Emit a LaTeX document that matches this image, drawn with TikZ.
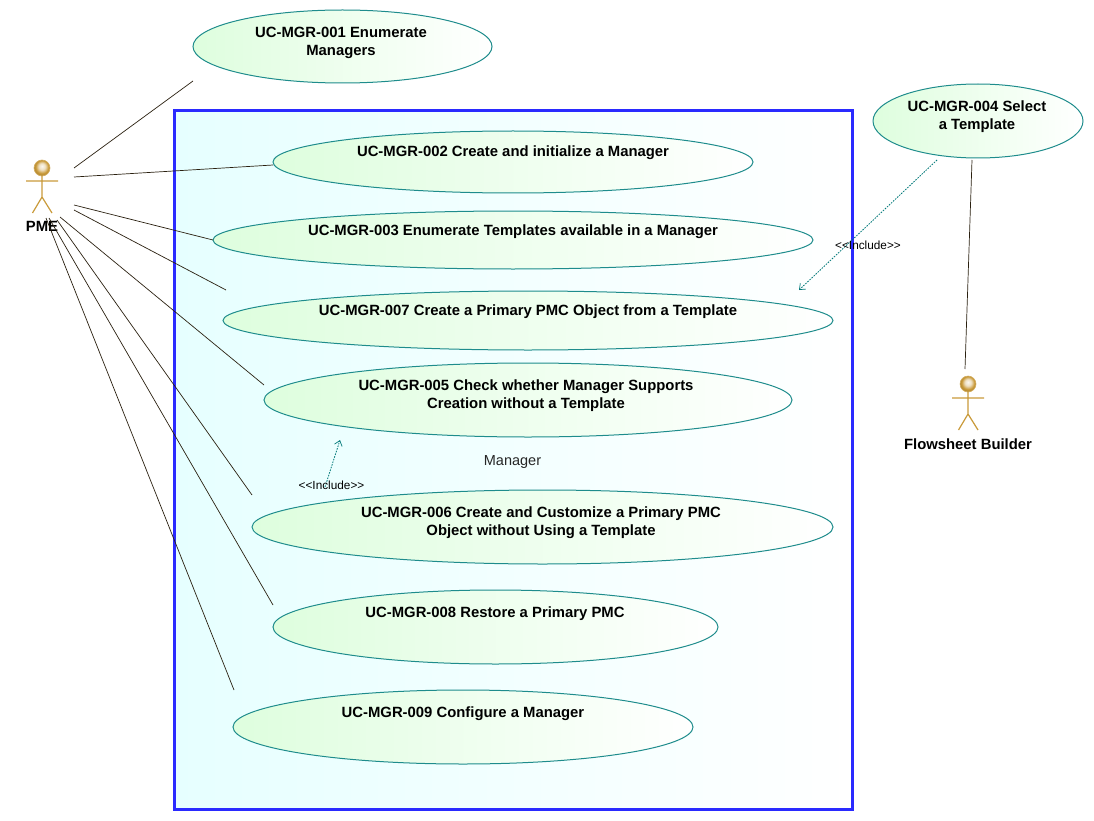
\documentclass[tikz,border=0pt]{standalone}
\usepackage{fontspec}
\setmainfont{Liberation Sans}
\usetikzlibrary{shapes.geometric,arrows.meta,shadings}
\definecolor{tealedge}{HTML}{1E8C8C}
\definecolor{tealdash}{HTML}{007878}
\definecolor{usegreen}{HTML}{DEFEDE}
\definecolor{framecyan}{HTML}{E6FFFF}
\definecolor{frameblue}{HTML}{2A2AFF}
\definecolor{actorgold}{HTML}{C99A3A}
\definecolor{linkdark}{HTML}{2A2010}
\pgfdeclareradialshading{goldball}{\pgfpoint{0bp}{6bp}}{%
  color(0bp)=(white!92!actorgold);
  color(10bp)=(white!70!actorgold);
  color(20bp)=(actorgold);
  color(25bp)=(actorgold!90!black);
  color(50bp)=(actorgold!90!black)}
\tikzset{
  usecase/.style={ellipse,draw=tealedge,line width=1pt,left color=usegreen,right color=white,inner sep=0pt},
  uctext/.style={font=\fontsize{14.85}{18}\selectfont\bfseries,align=center,inner sep=0pt,text=black},
  actorname/.style={font=\fontsize{14.85}{18}\selectfont\bfseries,inner sep=0pt,text=black},
  plain/.style={font=\fontsize{14.5}{18}\selectfont,inner sep=0pt,text=black!85},
  inclabel/.style={font=\fontsize{11.8}{14}\selectfont,inner sep=0pt,text=black},
  assoc/.style={draw=linkdark,line width=0.7pt},
  incl/.style={draw=tealdash,line width=0.8pt,dash pattern=on 1.6pt off 1.2pt,-{Straight Barb[length=5pt,width=8pt,line width=0.7pt]}},
  actorline/.style={draw=actorgold,line width=1.2pt},
  actorhead/.style={circle,inner sep=0pt,minimum size=16pt,draw=actorgold!80,line width=0.6pt,shading=goldball}
}
\newcommand{\ucase}[5]{% name, x1, x2, y1, y2
  \node[usecase,minimum width={(#3)-(#2)},minimum height={(#5)-(#4)}] (#1) at ({((#2)+(#3))/2},{((#4)+(#5))/2}) {};
}
\begin{document}
\begin{tikzpicture}[x=1pt,y=-1pt]
\useasboundingbox (0,0) rectangle (1094,821);
% frame
\node[draw=frameblue,line width=3pt,left color=framecyan,right color=white,minimum width=678pt,minimum height=698pt,inner sep=0pt] (frame) at (513,460) {};
% use cases
\ucase{ua}{193}{492}{10}{83}
\ucase{ub}{273}{753}{131}{193}
\ucase{uc}{213}{813}{211}{269}
\ucase{ug}{223}{833}{291}{350}
\ucase{ue}{264}{792}{363}{437}
\ucase{uf}{252}{833}{490}{564}
\ucase{uh}{273}{718}{590}{664}
\ucase{ui}{233}{693}{690}{764}
\ucase{ud}{873}{1083}{84}{158}
\node[uctext] (ta) at (341,42.5) {UC-MGR-001 Enumerate\\Managers};
\node[uctext] (tb) at (513,152.5) {UC-MGR-002 Create and initialize a Manager};
\node[uctext] (tc) at (513,231.5) {UC-MGR-003 Enumerate Templates available in a Manager};
\node[uctext] (tg) at (528,311.5) {UC-MGR-007 Create a Primary PMC Object from a Template};
\node[uctext] (te) at (526,395.5) {UC-MGR-005 Check whether Manager Supports\\Creation without a Template};
\node[uctext] (tf) at (541,522.5) {UC-MGR-006 Create and Customize a Primary PMC\\Object without Using a Template};
\node[uctext] (th) at (495,613.5) {UC-MGR-008 Restore a Primary PMC};
\node[uctext] (ti) at (463,713.5) {UC-MGR-009 Configure a Manager};
\node[uctext] (td) at (977,116.5) {UC-MGR-004 Select\\a Template};
\node[plain] (mgr) at (512.5,462) {Manager};
% actors
\node[actorhead] (pmehead) at (42,168) {};
\coordinate (pmeneck) at (42,176);
\coordinate (pmehip) at (42,197);
\coordinate (pmearml) at (26,181);
\coordinate (pmearmr) at (58,181);
\coordinate (pmelegl) at (32.5,213);
\coordinate (pmelegr) at (52,213);
\draw[actorline] (pmeneck) -- (pmehip) (pmearml) -- (pmearmr) (pmelegl) -- (pmehip) -- (pmelegr);
\node[actorname] (pme) at (42,226.5) {PME};
\node[actorhead] (fbhead) at (968,384) {};
\coordinate (fbneck) at (968,392);
\coordinate (fbhip) at (968,414);
\coordinate (fbarml) at (952,398);
\coordinate (fbarmr) at (984,398);
\coordinate (fblegl) at (958.5,430);
\coordinate (fblegr) at (978,430);
\draw[actorline] (fbneck) -- (fbhip) (fbarml) -- (fbarmr) (fblegl) -- (fbhip) -- (fblegr);
\node[actorname] (fb) at (968,444) {Flowsheet Builder};
% connector ends
\coordinate (pa) at (74,168); \coordinate (ea) at (193,81);
\coordinate (pb) at (74,177); \coordinate (eb) at (273,165);
\coordinate (pc) at (74,205); \coordinate (ec) at (213,240);
\coordinate (pg) at (74,210); \coordinate (eg) at (226,290);
\coordinate (pe) at (60,217); \coordinate (ee) at (264,385);
\coordinate (pf) at (57,220); \coordinate (ef) at (252,495);
\coordinate (ph) at (49,218); \coordinate (eh) at (273,605);
\coordinate (pi) at (46,218); \coordinate (ei) at (234,690);
\coordinate (da) at (972,160); \coordinate (fa) at (965,369);
\draw[assoc] (pa) -- (ea);
\draw[assoc] (pb) -- (eb);
\draw[assoc] (pc) -- (ec);
\draw[assoc] (pg) -- (eg);
\draw[assoc] (pe) -- (ee);
\draw[assoc] (pf) -- (ef);
\draw[assoc] (ph) -- (eh);
\draw[assoc] (pi) -- (ei);
\draw[assoc] (da) -- (fa);
% includes
\coordinate (ia) at (937,160); \coordinate (ib) at (799,290);
\coordinate (ic) at (325,487); \coordinate (id) at (340,440);
\draw[incl] (ia) -- (ib);
\draw[incl] (ic) -- (id);
\node[inclabel] (la) at (868,245) {<{}<Include>{}>};
\node[inclabel] (lb) at (331.5,485) {<{}<Include>{}>};
\end{tikzpicture}
\end{document}
